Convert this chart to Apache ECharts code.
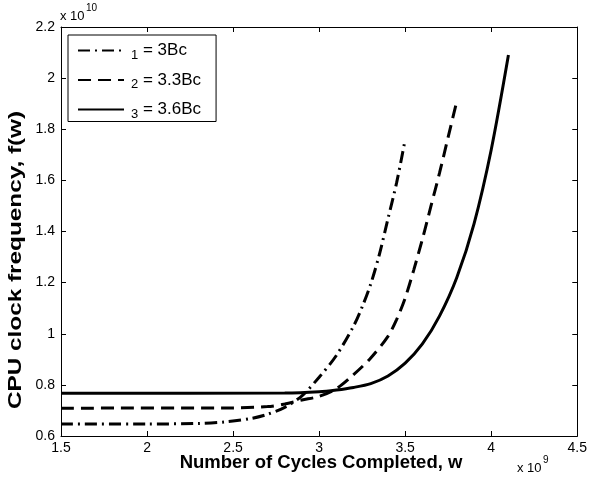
<!DOCTYPE html>
<html>
<head>
<meta charset="utf-8">
<script src="https://cdn.jsdelivr.net/npm/echarts@6/dist/echarts.min.js"></script>
<style>
  html, body { margin: 0; padding: 0; background: #fff; }
  #chart { width: 590px; height: 491px; }
</style>
</head>
<body>
<div id="chart"></div>
<script>
// x in units of 1e9 cycles, y in units of 1e10 Hz
var wEps1 = [1.5, 2.0, 2.3, 2.45, 2.6, 2.7, 2.8, 2.9, 3.0, 3.1, 3.2, 3.25, 3.3, 3.35, 3.4, 3.45, 3.5];
var fEps1 = [0.647, 0.647, 0.649, 0.655, 0.668, 0.685, 0.712, 0.757, 0.83, 0.915, 1.03, 1.105, 1.195, 1.31, 1.45, 1.59, 1.76];

var wEps2 = [1.5, 2.5, 2.7, 2.8, 2.9, 3.0, 3.1, 3.2, 3.3, 3.4, 3.45, 3.5, 3.55, 3.6, 3.65, 3.7, 3.75, 3.8];
var fEps2 = [0.709, 0.710, 0.715, 0.725, 0.741, 0.755, 0.785, 0.84, 0.905, 0.99, 1.055, 1.14, 1.25, 1.37, 1.50, 1.63, 1.77, 1.91];

var wEps3 = [1.5, 2.8, 3.0, 3.1, 3.2, 3.3, 3.4, 3.5, 3.6, 3.7, 3.8, 3.9, 4.0, 4.1];
var fEps3 = [0.767, 0.768, 0.773, 0.780, 0.79, 0.805, 0.835, 0.885, 0.96, 1.07, 1.22, 1.43, 1.72, 2.09];

var seriesNames = ['eps1', 'eps2', 'eps3'];
var legendSub = {eps1: '1', eps2: '2', eps3: '3'};
var legendVal = {eps1: '= 3Bc', eps2: '= 3.3Bc', eps3: '= 3.6Bc'};

var xTicks = {min: 1.5, max: 4.5, interval: 0.5};
var yTicks = {min: 0.6, max: 2.2, interval: 0.2};

function pairs(xs, ys) {
    var out = [];
    for (var i = 0; i < xs.length; i++) {
        out.push([xs[i], ys[i]]);
    }
    return out;
}

var FONT = 'Liberation Sans';
var chart = echarts.init(document.getElementById('chart'));

function axisCommon(showLabel) {
    return {
        axisLine: {show: true, onZero: false, lineStyle: {color: '#000', width: 1}},
        axisTick: {show: true, inside: true, length: 5, lineStyle: {color: '#000', width: 1}},
        splitLine: {show: false},
        axisLabel: {show: showLabel, color: '#000', fontSize: 14, fontFamily: FONT, margin: 6}
    };
}

var xBottom = Object.assign({type: 'value', position: 'bottom'}, xTicks, axisCommon(true));
var xTop = Object.assign({type: 'value', position: 'top'}, xTicks, axisCommon(false));
var yLeft = Object.assign({type: 'value', position: 'left'}, yTicks, axisCommon(true));
var yRight = Object.assign({type: 'value', position: 'right'}, yTicks, axisCommon(false));
xBottom.axisLabel.margin = 5;

function lineSeries(name, xs, ys, dash) {
    return {
        name: name,
        type: 'line',
        xAxisIndex: 0,
        yAxisIndex: 0,
        data: pairs(xs, ys),
        smooth: 0.3,
        symbol: 'none',
        animation: false,
        lineStyle: {color: '#000', width: 3, type: dash, cap: 'butt'},
        itemStyle: {color: '#000'}
    };
}

var option = {
    backgroundColor: '#fff',
    animation: false,
    grid: {left: 61, right: 10, top: 27, bottom: 55, containLabel: false},
    xAxis: [xBottom, xTop],
    yAxis: [yLeft, yRight],
    legend: {
        data: seriesNames,
        orient: 'vertical',
        left: 68,
        top: 35,
        padding: [7, 15, 1, 9],
        itemGap: 10,
        itemWidth: 46,
        itemHeight: 14,
        borderColor: '#000',
        borderWidth: 1,
        borderRadius: 0,
        backgroundColor: '#fff',
        selectedMode: false,
        itemStyle: {opacity: 0},
        formatter: function (name) {
            return '{s|' + legendSub[name] + '}{t| ' + legendVal[name] + '}';
        },
        textStyle: {
            color: '#000',
            fontFamily: FONT,
            rich: {
                s: {fontSize: 13, fontFamily: FONT, color: '#000', padding: [9, 0, 0, 2]},
                t: {fontSize: 17, fontFamily: FONT, color: '#000'}
            }
        }
    },
    series: [
        lineSeries('eps1', wEps1, fEps1, [12, 5, 2, 5]),
        lineSeries('eps2', wEps2, fEps2, [13, 7]),
        lineSeries('eps3', wEps3, fEps3, 'solid')
    ],
    graphic: [
        {
            type: 'text', x: 321, y: 463,
            style: {text: 'Number of Cycles Completed, w', font: 'bold 18.5px ' + FONT, fill: '#000', align: 'center', verticalAlign: 'middle'}
        },
        {
            type: 'text', x: 16, y: 260, rotation: Math.PI / 2, scaleX: 1.28,
            style: {text: 'CPU clock frequency, f(w)', font: 'bold 19px ' + FONT, fill: '#000', align: 'center', verticalAlign: 'middle'}
        },
        {
            type: 'text', x: 60, y: 16,
            style: {text: 'x 10', font: '13px ' + FONT, fill: '#000', align: 'left', verticalAlign: 'middle'}
        },
        {
            type: 'text', x: 86, y: 8,
            style: {text: '10', font: '10px ' + FONT, fill: '#000', align: 'left', verticalAlign: 'middle'}
        },
        {
            type: 'text', x: 517, y: 468,
            style: {text: 'x 10', font: '13px ' + FONT, fill: '#000', align: 'left', verticalAlign: 'middle'}
        },
        {
            type: 'text', x: 543, y: 460,
            style: {text: '9', font: '10px ' + FONT, fill: '#000', align: 'left', verticalAlign: 'middle'}
        }
    ]
};

chart.setOption(option);
</script>
</body>
</html>
